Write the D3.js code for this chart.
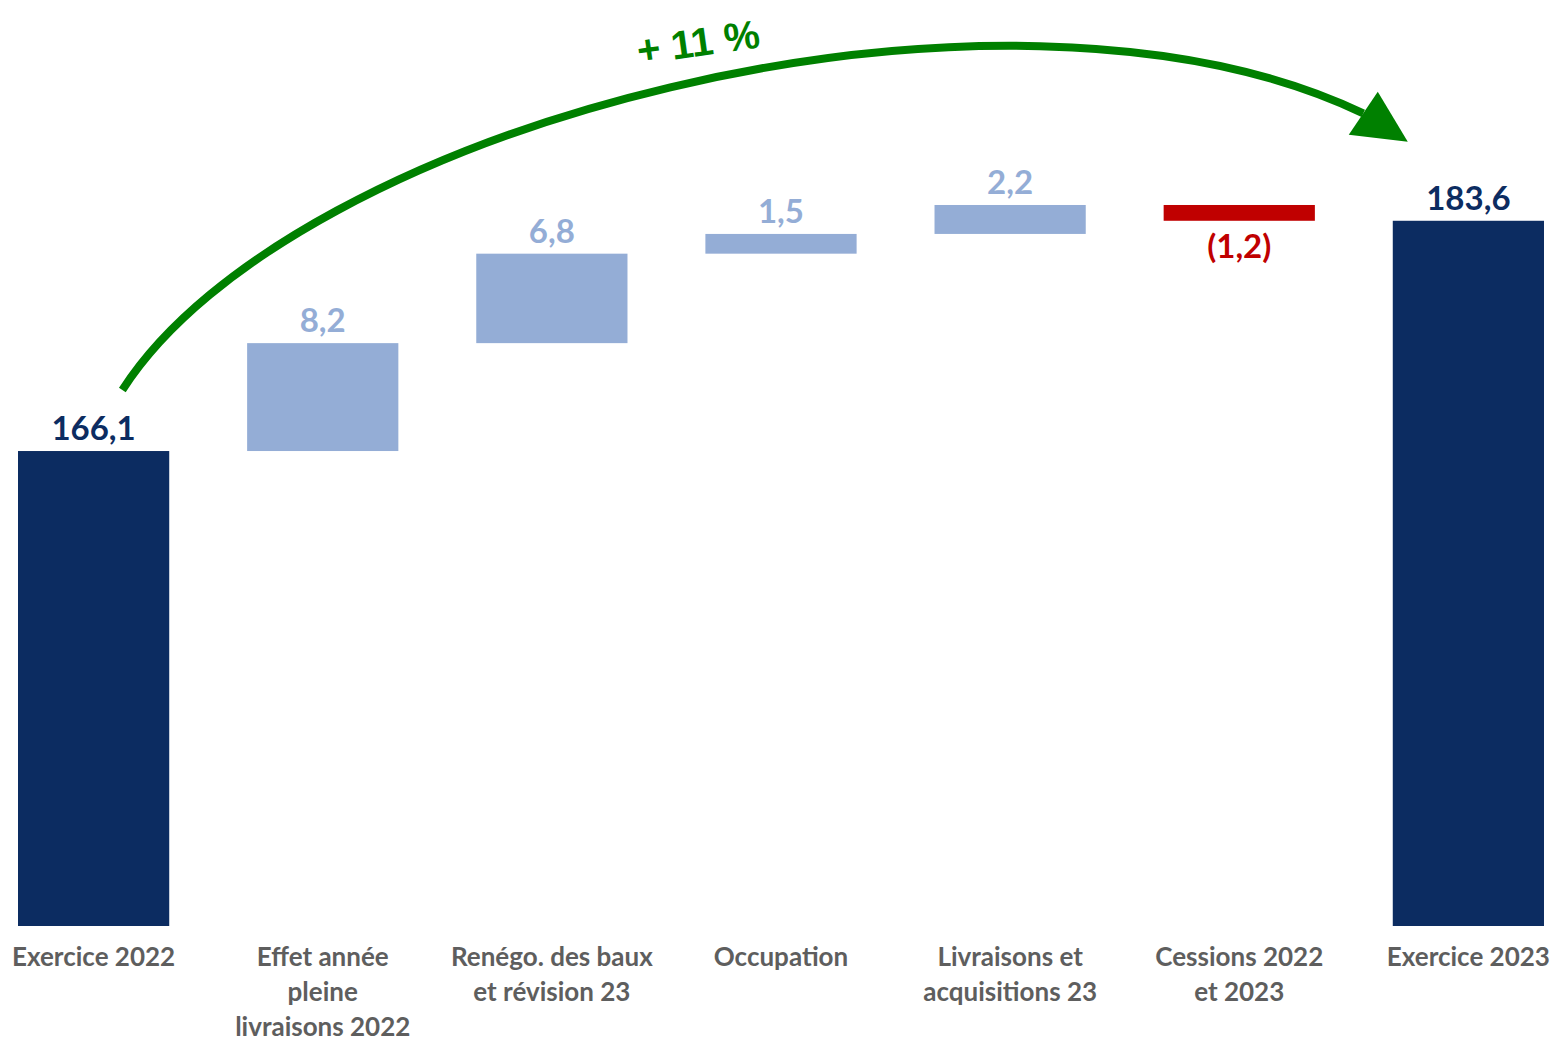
<!DOCTYPE html>
<html lang="fr">
<head>
<meta charset="utf-8">
<title>Évolution des revenus locatifs 2022 → 2023</title>
<script src="https://cdn.jsdelivr.net/npm/d3@7/dist/d3.min.js"></script>
<style>
  html, body { margin: 0; padding: 0; background: #ffffff; }
  svg { display: block; }
  .lbl { font-family: Lato, "Open Sans", sans-serif; font-weight: 700; }
  .growth { font-family: "Liberation Sans"; font-weight: 700; }
</style>
</head>
<body>
<svg id="chart" width="1554" height="1043"></svg>
<script>
// Categories of the bridge, with the wrapped lines shown under each bar
const categories = ["ex2022", "effet", "renego", "occupation", "livraisons", "cessions", "ex2023"];
const categoryLines = [
  ["Exercice 2022"],
  ["Effet année", "pleine", "livraisons 2022"],
  ["Renégo. des baux", "et révision 23"],
  ["Occupation"],
  ["Livraisons et", "acquisitions 23"],
  ["Cessions 2022", "et 2023"],
  ["Exercice 2023"]
];
// Totals for the two years, variations in between (M€)
const values = [166.1, 8.2, 6.8, 1.5, 2.2, -1.2, 183.6];
const kinds = ["total", "delta", "delta", "delta", "delta", "delta", "total"];
const valueLabels = ["166,1", "8,2", "6,8", "1,5", "2,2", "(1,2)", "183,6"];
const growthLabel = "+ 11 %";

const colors = {
  total: "#0c2c61",
  up: "#94add6",
  down: "#c00000",
  category: "#5e5e5e",
  arrow: "#008000"
};

const svg = d3.select("#chart");

// Running start / end of each step of the waterfall
let running = 0;
const steps = values.map((v, i) => {
  let start, end;
  if (kinds[i] === "total") { start = 0; end = v; running = v; }
  else { start = running; end = running + v; running = end; }
  return { key: categories[i], value: v, kind: kinds[i], start, end, label: valueLabels[i], lines: categoryLines[i] };
});

const x = d3.scaleBand().domain(categories).range([18, 1544]).paddingInner(0.34).paddingOuter(0);
// The value axis is truncated: bars rise from a 130 baseline
const baseline = 130;
const y = d3.scaleLinear().domain([baseline, 200]).range([926, 5]);

const fillOf = d => d.kind === "total" ? colors.total : (d.value >= 0 ? colors.up : colors.down);

// Bars
svg.append("g").selectAll("rect").data(steps).join("rect")
  .attr("x", d => x(d.key))
  .attr("width", x.bandwidth())
  .attr("y", d => d.kind === "total" ? y(d.end) : y(Math.max(d.start, d.end)))
  .attr("height", d => d.kind === "total" ? y(baseline) - y(d.end) : Math.abs(y(d.start) - y(d.end)))
  .attr("fill", fillOf);

// Value labels: above rising bars, below the falling one
svg.append("g").selectAll("text").data(steps).join("text")
  .attr("class", "lbl")
  .attr("x", d => x(d.key) + x.bandwidth() / 2)
  .attr("y", d => d.value >= 0 ? y(Math.max(d.start, d.end)) - 11 : y(Math.min(d.start, d.end)) + 37)
  .attr("text-anchor", "middle")
  .attr("font-size", 33)
  .attr("fill", fillOf)
  .text(d => d.label);

// Category labels
const cat = svg.append("g").selectAll("text").data(steps).join("text")
  .attr("class", "lbl")
  .attr("x", d => x(d.key) + x.bandwidth() / 2)
  .attr("y", 966)
  .attr("text-anchor", "middle")
  .attr("font-size", 26)
  .attr("fill", colors.category);
cat.selectAll("tspan").data(d => d.lines).join("tspan")
  .attr("x", function () { return d3.select(this.parentNode).attr("x"); })
  .attr("dy", (d, i) => i === 0 ? 0 : 35)
  .text(d => d);

// Growth arrow from the 2022 total to the 2023 total
const first = steps[0], last = steps[steps.length - 1];
const p0 = [x(first.key) + x.bandwidth() * 0.69, y(first.end) - 61];
const tip = [x(last.key) + 15, y(last.end) - 79];
const headA = [tip[0] - 30, tip[1] - 50];
const headB = [tip[0] - 59, tip[1] - 7];
const baseMid = [(headA[0] + headB[0]) / 2, (headA[1] + headB[1]) / 2];

const path = d3.path();
path.moveTo(p0[0], p0[1]);
path.bezierCurveTo(p0[0] + 170, p0[1] - 265, 1000, -60, baseMid[0], baseMid[1]);
svg.append("path")
  .attr("d", path.toString())
  .attr("fill", "none")
  .attr("stroke", colors.arrow)
  .attr("stroke-width", 8);
svg.append("path")
  .attr("d", d3.line()([tip, headA, headB]) + "Z")
  .attr("fill", colors.arrow);

svg.append("text")
  .attr("class", "growth")
  .attr("transform", "translate(700,56) rotate(-8)")
  .attr("text-anchor", "middle")
  .attr("font-size", 40)
  .attr("fill", colors.arrow)
  .text(growthLabel);
</script>
</body>
</html>
